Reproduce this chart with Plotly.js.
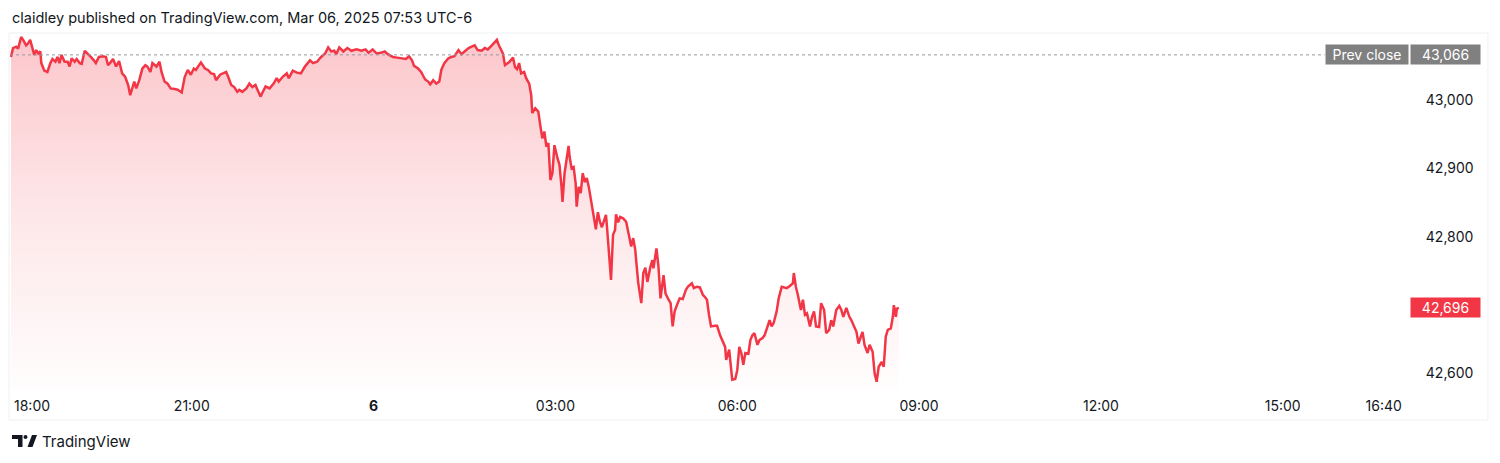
<!DOCTYPE html>
<html>
<head>
<meta charset="utf-8">
<script src="https://cdn.plot.ly/plotly-3.0.1.min.js"></script>
<style>
  html, body { margin: 0; padding: 0; background: #ffffff; }
  #chart { width: 1500px; height: 463px; }
</style>
</head>
<body>
<div id="chart"></div>
<script>
// Session times (ET clock as on the axis); 18:00-23:59 are Mar 5, the rest Mar 6
const times = [
"18:01","18:03","18:06","18:08","18:11","18:13","18:16","18:18","18:20","18:22",
"18:24","18:26","18:28","18:30","18:31","18:34","18:37","18:40","18:42","18:45",
"18:47","18:49","18:51","18:54","18:57","18:59","19:01","19:04","19:06","19:09",
"19:11","19:14","19:17","19:20","19:23","19:25","19:28","19:32","19:35","19:37",
"19:39","19:42","19:45","19:48","19:51","19:54","19:57","19:59","20:03","20:05",
"20:08","20:11","20:14","20:16","20:19","20:21","20:25","20:28","20:30","20:33",
"20:36","20:39","20:43","20:46","20:50","20:53","20:56","20:59","21:02","21:04",
"21:09","21:13","21:16","21:19","21:22","21:24","21:28","21:31","21:34","21:36",
"21:39","21:42","21:45","21:47","21:50","21:54","21:57","22:00","22:03","22:05",
"22:08","22:10","22:13","22:17","22:21","22:24","22:26","22:30","22:34","22:36",
"22:40","22:44","22:48","22:52","22:57","23:00","23:04","23:08","23:12","23:15",
"23:18","23:21","23:23","23:26","23:30","23:34","23:38","23:43","23:48","23:52",
"23:55","23:59","00:03","00:07","00:11","00:14","00:19","00:23","00:28","00:32",
"00:35","00:38","00:40","00:44","00:47","00:51","00:54","00:56","00:59","01:02",
"01:05","01:07","01:10","01:14","01:17","01:20","01:24","01:27","01:30","01:34",
"01:37","01:40","01:43","01:47","01:50","01:53","01:57","02:00","02:02","02:04",
"02:08","02:10","02:14","02:18","02:20","02:22","02:24","02:26","02:29","02:31",
"02:34","02:36","02:37","02:40","02:43","02:45","02:47","02:49","02:51","02:53",
"02:55","02:57","02:59","03:02","03:04","03:06","03:07","03:09","03:11","03:13",
"03:14","03:16","03:18","03:20","03:21","03:23","03:25","03:27","03:29","03:31",
"03:33","03:36","03:38","03:40","03:42","03:44","03:46","03:48","03:50","03:51",
"03:54","03:55","03:57","03:59","04:00","04:02","04:04","04:07","04:10","04:12",
"04:14","04:15","04:17","04:19","04:20","04:22","04:25","04:27","04:29","04:31",
"04:34","04:36","04:37","04:40","04:42","04:44","04:47","04:49","04:52","04:54",
"04:56","04:58","05:01","05:03","05:06","05:09","05:11","05:15","05:17","05:20",
"05:23","05:26","05:28","05:30","05:32","05:34","05:38","05:40","05:43","05:45",
"05:48","05:49","05:52","05:53","05:55","05:58","06:00","06:02","06:04","06:06",
"06:08","06:11","06:13","06:15","06:17","06:20","06:22","06:25","06:27","06:30",
"06:32","06:34","06:36","06:39","06:41","06:44","06:46","06:49","06:52","06:55",
"06:56","06:58","07:00","07:03","07:05","07:07","07:09","07:12","07:14","07:16",
"07:18","07:21","07:23","07:26","07:28","07:31","07:33","07:35","07:38","07:41",
"07:43","07:45","07:48","07:51","07:53","07:55","07:58","08:00","08:02","08:04",
"08:06","08:09","08:11","08:14","08:16","08:18","08:20","08:23","08:25","08:27",
"08:29","08:32","08:34","08:35","08:37","08:38","08:40"
];

const prices = [
43063,43076,43078,43075,43092,43088,43080,43083,43088,43076,
43066,43073,43068,43071,43054,43043,43041,43054,43060,43056,
43063,43054,43066,43056,43056,43049,43061,43056,43060,43054,
43053,43072,43068,43063,43058,43054,43063,43064,43063,43051,
43054,43060,43049,43057,43039,43034,43022,43007,43027,43017,
43029,43046,43051,43049,43041,43054,43049,43056,43041,43027,
43024,43017,43016,43015,43011,43034,43044,43037,43046,43044,
43055,43046,43044,43039,43038,43029,43037,43039,43041,43034,
43022,43019,43012,43015,43012,43017,43024,43019,43022,43015,
43005,43011,43020,43017,43024,43032,43027,43034,43039,43032,
43043,43040,43039,43049,43058,43054,43056,43063,43068,43077,
43071,43072,43067,43077,43071,43076,43072,43074,43072,43074,
43069,43074,43068,43069,43071,43067,43063,43062,43061,43060,
43064,43058,43050,43046,43041,43030,43027,43023,43029,43024,
43027,43044,43054,43061,43063,43064,43073,43067,43071,43076,
43078,43080,43073,43072,43076,43074,43080,43085,43088,43080,
43068,43051,43055,43062,43048,43045,43054,43039,43041,43032,
43024,43007,42981,42988,42983,42963,42944,42954,42932,42937,
42883,42893,42934,42915,42905,42873,42851,42893,42917,42933,
42917,42900,42902,42878,42844,42873,42864,42893,42880,42886,
42873,42844,42829,42811,42836,42822,42814,42823,42832,42815,
42747,42737,42803,42810,42833,42821,42829,42827,42822,42806,
42795,42786,42798,42781,42764,42732,42703,42747,42755,42734,
42756,42766,42754,42783,42756,42710,42744,42717,42708,42703,
42669,42691,42703,42710,42709,42722,42727,42732,42725,42727,
42726,42715,42712,42708,42686,42669,42670,42670,42656,42649,
42639,42620,42635,42620,42591,42592,42605,42639,42630,42613,
42630,42629,42649,42656,42659,42642,42649,42652,42656,42669,
42678,42669,42674,42691,42710,42727,42726,42725,42728,42732,
42747,42727,42715,42693,42708,42686,42688,42669,42683,42691,
42669,42668,42703,42693,42659,42664,42678,42669,42693,42699,
42693,42683,42696,42683,42678,42671,42661,42644,42654,42661,
42642,42630,42642,42632,42600,42588,42610,42617,42610,42654,
42664,42666,42683,42700,42683,42695,42696
];

const prevClose = 43066;
const lastPrice = 42696;

const xTickTimes = ["2025-03-05 21:00","2025-03-06 00:00","2025-03-06 03:00","2025-03-06 06:00","2025-03-06 09:00","2025-03-06 12:00","2025-03-06 15:00","2025-03-06 16:40"];
const xTickLabels = ["21:00","<b>6</b>","03:00","06:00","09:00","12:00","15:00","16:40"];
const firstTickTime = "2025-03-05 18:00";
const firstTickLabel = "18:00";
const yTickVals = [42600, 42800, 42900, 43000];
const xRange = ["2025-03-05 18:00", "2025-03-06 17:06"];
const yRange = [42576, 43098];

const stamp = t => (t >= "18:00" ? "2025-03-05 " : "2025-03-06 ") + t;
const xs = times.map(stamp);

const FONT = "Inter, 'Noto Sans', Roboto, sans-serif";
const TXT = "#131722";
const RED = "#f23645";

const trace = {
  type: "scatter",
  mode: "lines",
  x: xs,
  y: prices,
  line: { color: RED, width: 2.5 },
  fill: "tozeroy",
  fillgradient: {
    type: "vertical",
    start: yRange[0],
    stop: 43090,
    colorscale: [[0, "rgba(242,54,69,0.01)"], [0.5, "rgba(242,54,69,0.12)"], [1, "rgba(242,54,69,0.28)"]]
  },
  hoverinfo: "skip",
  showlegend: false
};

// pixel geometry helpers: plot area left=10, width=1400, bottom=390
const shapes = [
  { type: "rect", xref: "paper", yref: "paper", x0: -0.0007, x1: 1.0557, y0: -0.084, y1: 1.0,
    line: { color: "#eef0f3", width: 1 }, fillcolor: "rgba(0,0,0,0)", layer: "below" },
  { type: "line", xref: "paper", yref: "y", x0: 0, x1: 0.939, y0: prevClose, y1: prevClose,
    line: { color: "#9598a1", width: 1, dash: "dot" } },
  { type: "path", xref: "paper", yref: "paper", xsizemode: "pixel", ysizemode: "pixel", xanchor: 0, yanchor: 0,
    path: "M 2,-45 L 12.5,-45 L 12.5,-57 L 8,-57 L 8,-49 L 2,-49 Z", fillcolor: TXT, line: { width: 0 } },
  { type: "circle", xref: "paper", yref: "paper", xsizemode: "pixel", ysizemode: "pixel", xanchor: 0, yanchor: 0,
    x0: 13.5, x1: 17.5, y0: -45, y1: -49, fillcolor: TXT, line: { width: 0 } },
  { type: "path", xref: "paper", yref: "paper", xsizemode: "pixel", ysizemode: "pixel", xanchor: 0, yanchor: 0,
    path: "M 17.5,-57 L 22,-45 L 27,-45 L 22.5,-57 Z", fillcolor: TXT, line: { width: 0 } }
];

const annotations = [
  { xref: "x", yref: "paper", x: firstTickTime, y: 0, yshift: -15, xanchor: "left", yanchor: "middle",
    xshift: 2, text: firstTickLabel, showarrow: false, font: { family: FONT, size: 14, color: TXT } },
  { xref: "paper", yref: "y", x: 1, xshift: -1, y: prevClose, xanchor: "right", yanchor: "middle",
    text: "Prev close", showarrow: false, bgcolor: "#808080", width: 80, height: 17, borderpad: 1,
    font: { family: FONT, size: 14, color: "#ffffff" } },
  { xref: "paper", yref: "y", x: 1, xshift: 0, y: prevClose, xanchor: "left", yanchor: "middle",
    text: prevClose.toLocaleString("en-US"), showarrow: false, bgcolor: "#808080", width: 67, height: 17, borderpad: 1,
    font: { family: FONT, size: 14, color: "#ffffff" } },
  { xref: "paper", yref: "y", x: 1, xshift: 0, y: lastPrice, xanchor: "left", yanchor: "middle",
    text: lastPrice.toLocaleString("en-US"), showarrow: false, bgcolor: RED, width: 67, height: 17, borderpad: 1,
    font: { family: FONT, size: 14, color: "#ffffff" } },
  { xref: "paper", yref: "paper", x: 0, xshift: 30, y: 0, yshift: -51, xanchor: "left", yanchor: "middle",
    text: "TradingView", showarrow: false, font: { family: FONT, size: 15, color: TXT } }
];

const layout = {
  width: 1500,
  height: 463,
  margin: { l: 10, r: 90, t: 33, b: 73, pad: 0 },
  paper_bgcolor: "#ffffff",
  plot_bgcolor: "#ffffff",
  font: { family: FONT, color: TXT },
  title: {
    text: "claidley published on TradingView.com, Mar 06, 2025 07:53 UTC-6",
    xref: "container", yref: "container", x: 12 / 1500, xanchor: "left", y: 1 - 18 / 463, yanchor: "middle",
    font: { family: FONT, size: 14.5, color: TXT }
  },
  xaxis: {
    type: "date",
    range: xRange,
    showgrid: false, zeroline: false, showline: false,
    tickmode: "array", tickvals: xTickTimes, ticktext: xTickLabels,
    ticks: "outside", ticklen: 3, tickcolor: "rgba(0,0,0,0)",
    tickfont: { family: FONT, size: 14, color: TXT }, tickangle: 0,
    fixedrange: true
  },
  yaxis: {
    side: "right",
    range: yRange,
    showgrid: false, zeroline: false, showline: false,
    tickmode: "array", tickvals: yTickVals, tickformat: ",d",
    ticks: "outside", ticklen: 12, tickcolor: "rgba(0,0,0,0)",
    tickfont: { family: FONT, size: 14, color: TXT },
    fixedrange: true
  },
  shapes: shapes,
  annotations: annotations,
  showlegend: false
};

Plotly.newPlot("chart", [trace], layout, { displayModeBar: false, staticPlot: true });
</script>
</body>
</html>
